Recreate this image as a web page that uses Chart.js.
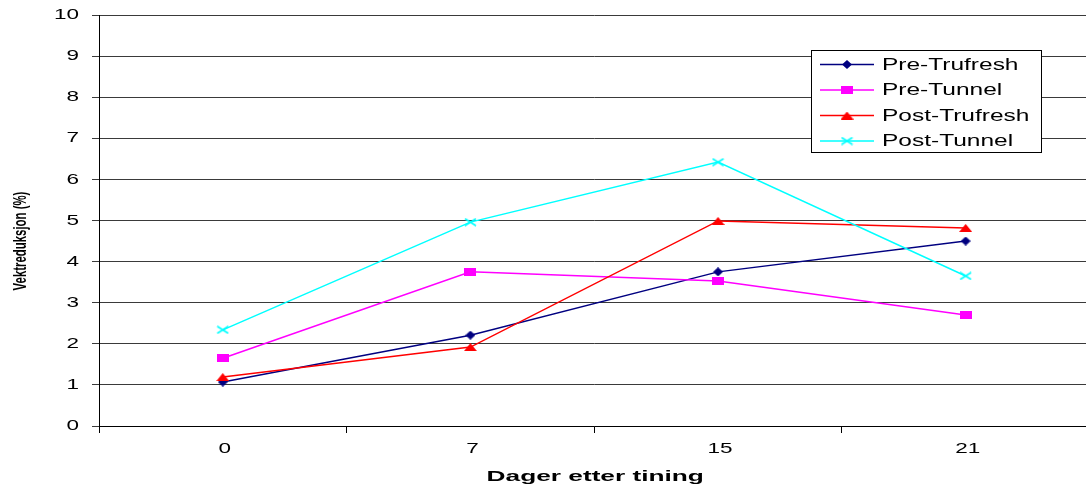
<!DOCTYPE html>
<html>
<head>
<meta charset="utf-8">
<script src="https://cdn.jsdelivr.net/npm/chart.js@4.4.1/dist/chart.umd.min.js"></script>
<style>
  html, body { margin: 0; padding: 0; background: #fff; overflow: hidden; }
  #wrap { position: relative; width: 1095px; height: 488px; }
</style>
</head>
<body>
<div id="wrap"><canvas id="chart"></canvas></div>
<script>
"use strict";

// values
const days = ['0', '7', '15', '21'];
const preTrufresh = [1.07, 2.21, 3.75, 4.50];
const preTunnel = [1.65, 3.75, 3.53, 2.70];
const postTrufresh = [1.19, 1.92, 4.99, 4.82];
const postTunnel = [2.34, 4.96, 6.42, 3.65];

const seriesNames = ['Pre-Trufresh', 'Pre-Tunnel', 'Post-Trufresh', 'Post-Tunnel'];
const xTitle = 'Dager etter tining';
const yTitle = 'Vektreduksjon (%)';

const FONT = '"Liberation Sans", Arial, sans-serif';

// small canvases used as point markers (a bit wider than tall, like the original)
function marker(kind, w, h, color) {
  const c = document.createElement('canvas');
  c.width = w;
  c.height = h;
  const g = c.getContext('2d');
  g.fillStyle = color;
  g.strokeStyle = color;
  g.beginPath();
  if (kind === 'diamond') {
    g.moveTo(w / 2, 0); g.lineTo(w, h / 2); g.lineTo(w / 2, h); g.lineTo(0, h / 2);
    g.closePath(); g.fill();
  } else if (kind === 'square') {
    g.fillRect(0, 0, w, h);
  } else if (kind === 'triangle') {
    g.moveTo(w / 2, 0); g.lineTo(w, h); g.lineTo(0, h);
    g.closePath(); g.fill();
  } else {
    g.lineWidth = 1.6;
    g.moveTo(1, 1); g.lineTo(w - 1, h - 1);
    g.moveTo(w - 1, 1); g.lineTo(1, h - 1);
    g.stroke();
  }
  return c;
}

const colors = ['#000080', '#ff00ff', '#ff0000', '#00ffff'];
const markers = [
  marker('diamond', 10, 9, colors[0]),
  marker('square', 12, 8, colors[1]),
  marker('triangle', 13, 8, colors[2]),
  marker('cross', 13, 9, colors[3]),
];
const values = [preTrufresh, preTunnel, postTrufresh, postTunnel];

const datasets = values.map((v, i) => ({
  label: seriesNames[i],
  data: v,
  borderColor: colors[i],
  backgroundColor: colors[i],
  borderWidth: 1.5,
  pointStyle: markers[i],
  tension: 0,
  order: 3 - i,
}));

// text in the original is stretched sideways
function stretchedText(ctx, text, x, y, align, font, sx) {
  ctx.save();
  ctx.translate(x, y);
  ctx.scale(sx, 1);
  ctx.font = font;
  ctx.fillStyle = '#000';
  ctx.textAlign = align;
  ctx.textBaseline = 'middle';
  ctx.fillText(text, 0, 0);
  ctx.restore();
}

const decorations = {
  id: 'decorations',
  afterDraw(chart) {
    const ctx = chart.ctx;
    const area = chart.chartArea;
    const xs = chart.scales.x;
    const ys = chart.scales.y;

    // tick labels from the scales
    xs.ticks.forEach((t, i) => {
      stretchedText(ctx, xs.getLabelForValue(t.value), xs.getPixelForTick(i) + 2, 449, 'center', '15px ' + FONT, 1.5);
    });
    ys.ticks.forEach((t, i) => {
      stretchedText(ctx, String(t.value), 79, ys.getPixelForTick(i), 'right', '15px ' + FONT, 1.5);
    });

    // y title, squeezed like the original
    ctx.save();
    ctx.translate(21, 241);
    ctx.rotate(-Math.PI / 2);
    ctx.scale(0.6, 1);
    ctx.font = 'bold 19px ' + FONT;
    ctx.fillStyle = '#000';
    ctx.textAlign = 'center';
    ctx.textBaseline = 'middle';
    ctx.fillText(yTitle, 0, 0);
    ctx.restore();

    // x title
    stretchedText(ctx, xTitle, (area.left + area.right) / 2 + 1, 477, 'center', 'bold 15px ' + FONT, 1.75);

    // legend box
    const lx = 811, ly = 50, lw = 230, lh = 102;
    ctx.save();
    ctx.fillStyle = '#fff';
    ctx.fillRect(lx, ly, lw, lh);
    ctx.strokeStyle = '#000';
    ctx.lineWidth = 1;
    ctx.strokeRect(lx + 0.5, ly + 0.5, lw, lh);
    chart.data.datasets.forEach((ds, i) => {
      const y = 64.5 + i * 25.5;
      ctx.strokeStyle = ds.borderColor;
      ctx.lineWidth = 1.5;
      ctx.beginPath();
      ctx.moveTo(820, y);
      ctx.lineTo(874, y);
      ctx.stroke();
      const m = ds.pointStyle;
      ctx.drawImage(m, 847 - m.width / 2, y - m.height / 2);
      stretchedText(ctx, ds.label, 882, y + 1, 'left', '16px ' + FONT, 1.53);
    });
    ctx.restore();
  }
};

new Chart(document.getElementById('chart'), {
  type: 'line',
  data: { labels: days, datasets: datasets },
  options: {
    responsive: true,
    maintainAspectRatio: false,
    animation: false,
    layout: { padding: { top: 15, right: 0, bottom: 0, left: 0 } },
    plugins: {
      legend: { display: false },
      tooltip: { enabled: false },
    },
    scales: {
      x: {
        offset: true,
        grid: { offset: true, drawOnChartArea: false, tickLength: 7, color: '#000' },
        border: { color: '#000', width: 1 },
        ticks: { display: false },
        afterFit(scale) { scale.height = 62; },
      },
      y: {
        min: 0,
        max: 10,
        ticks: { stepSize: 1, display: false },
        grid: { color: '#3a3a3a', tickLength: 7 },
        border: { color: '#000', width: 1 },
        afterFit(scale) { scale.width = 99; },
      },
    },
  },
  plugins: [decorations],
});
</script>
</body>
</html>
